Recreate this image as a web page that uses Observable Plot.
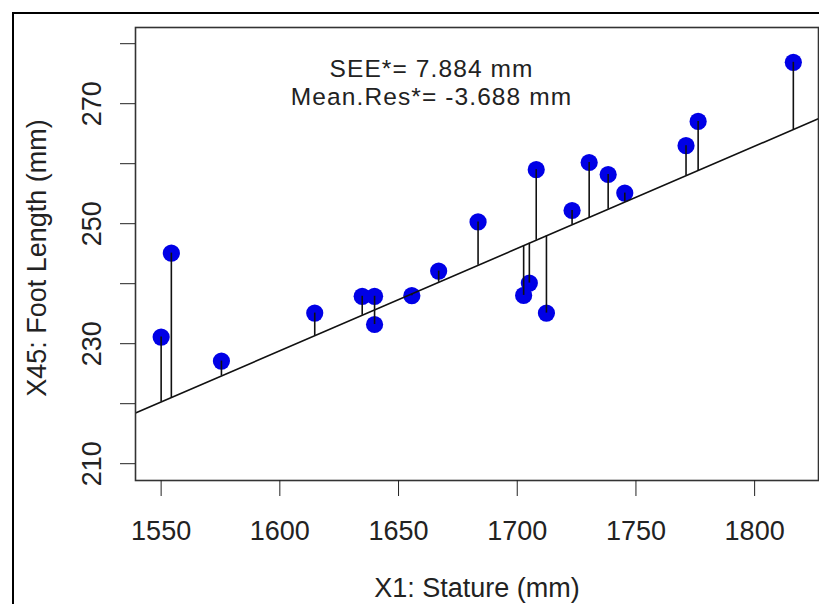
<!DOCTYPE html>
<html><head><meta charset="utf-8">
<script src="https://cdn.jsdelivr.net/npm/d3@7"></script>
<script src="https://cdn.jsdelivr.net/npm/@observablehq/plot@0.6"></script>
<style>
html,body{margin:0;padding:0;background:#fff;}
#wrap{position:relative;width:819px;height:604px;overflow:hidden;background:#fff;}
#border{position:absolute;left:12px;top:12px;width:900px;height:700px;border-left:2px solid #000;border-top:2px solid #000;pointer-events:none;}
</style></head><body>
<div id="wrap"><div id="chart"></div><div id="border"></div></div>
<script>
const stature = [1550, 1554.3, 1575.4, 1614.7, 1634.7, 1639.9, 1639.9, 1655.6, 1666.9, 1683.5, 1702.7, 1705.1, 1708.0, 1712.3, 1723.1, 1730.3, 1738.3, 1745.3, 1771.1, 1776.2, 1816.3];
const footLength = [231.1, 245.1, 227.1, 235.1, 237.9, 237.9, 233.2, 238.0, 242.1, 250.3, 238.05, 240.1, 259.0, 235.1, 252.2, 260.2, 258.2, 255.1, 263.0, 267.05, 276.9];
const fitIntercept = -43.98;
const fitSlope = 0.1705;
const xTicks = [1550, 1600, 1650, 1700, 1750, 1800];
const yTicks = [210, 220, 230, 240, 250, 260, 270, 280];
const yTickLabels = [210, 230, 250, 270];
const annotationLines = ["SEE*= 7.884 mm", "Mean.Res*= -3.688 mm"];
const annotationY = [274.48, 269.78];
const annotationX = 1663.9;
const xTitle = "X1: Stature (mm)";
const yTitle = "X45: Foot Length (mm)";

const xDomain = [1539.2, 1826.9];
const yDomain = [207.2, 282.7];
const pts = stature.map((x, i) => ({x, y: footLength[i], fit: fitIntercept + fitSlope * x}));
const lineData = xDomain.map(x => ({x, y: fitIntercept + fitSlope * x}));
const F = "'Liberation Sans', Arial, Helvetica, sans-serif";

const chart = Plot.plot({
  width: 819, height: 604,
  marginLeft: 135, marginRight: 1, marginTop: 27, marginBottom: 124,
  x: {domain: xDomain, label: null},
  y: {domain: yDomain, label: null},
  style: {fontFamily: F, fontSize: "27px", background: "white", color: "#222", overflow: "visible"},
  marks: [
    Plot.dot(pts, {x: "x", y: "y", r: 8.6, fill: "#0000e6", stroke: "none"}),
    Plot.ruleX(pts, {x: "x", y1: "y", y2: "fit", stroke: "#111", strokeWidth: 1.6}),
    Plot.line(lineData, {x: "x", y: "y", stroke: "#111", strokeWidth: 1.6, clip: true}),
    Plot.frame({stroke: "#333", strokeWidth: 1.6}),
    Plot.axisX({ticks: xTicks, tickSize: 16, tickPadding: 24, tickFormat: d => String(d), fontSize: 27, label: null}),
    Plot.axisY({ticks: yTicks, tickSize: 15, tickFormat: () => "", label: null}),
    Plot.text(yTickLabels, {y: d => d, text: d => String(d), frameAnchor: "left", dx: -35, rotate: -90, textAnchor: "middle", lineAnchor: "bottom", fontSize: 27}),
    Plot.text([xTitle], {text: d => d, frameAnchor: "bottom", dy: 116, lineAnchor: "bottom", fontSize: 27}),
    Plot.text([yTitle], {text: d => d, frameAnchor: "left", dx: -90, dy: 4, rotate: -90, textAnchor: "middle", lineAnchor: "bottom", fontSize: 27}),
    Plot.text(annotationLines, {x: () => annotationX, y: (d, i) => annotationY[i], text: d => d, textAnchor: "middle", lineAnchor: "bottom", fontSize: 24.5})
  ]
});
d3.select(chart).selectAll("text")
  .filter(function() { return annotationLines.includes(this.textContent); })
  .attr("letter-spacing", "1.1px");
document.getElementById("chart").appendChild(chart);
</script>
</body></html>
